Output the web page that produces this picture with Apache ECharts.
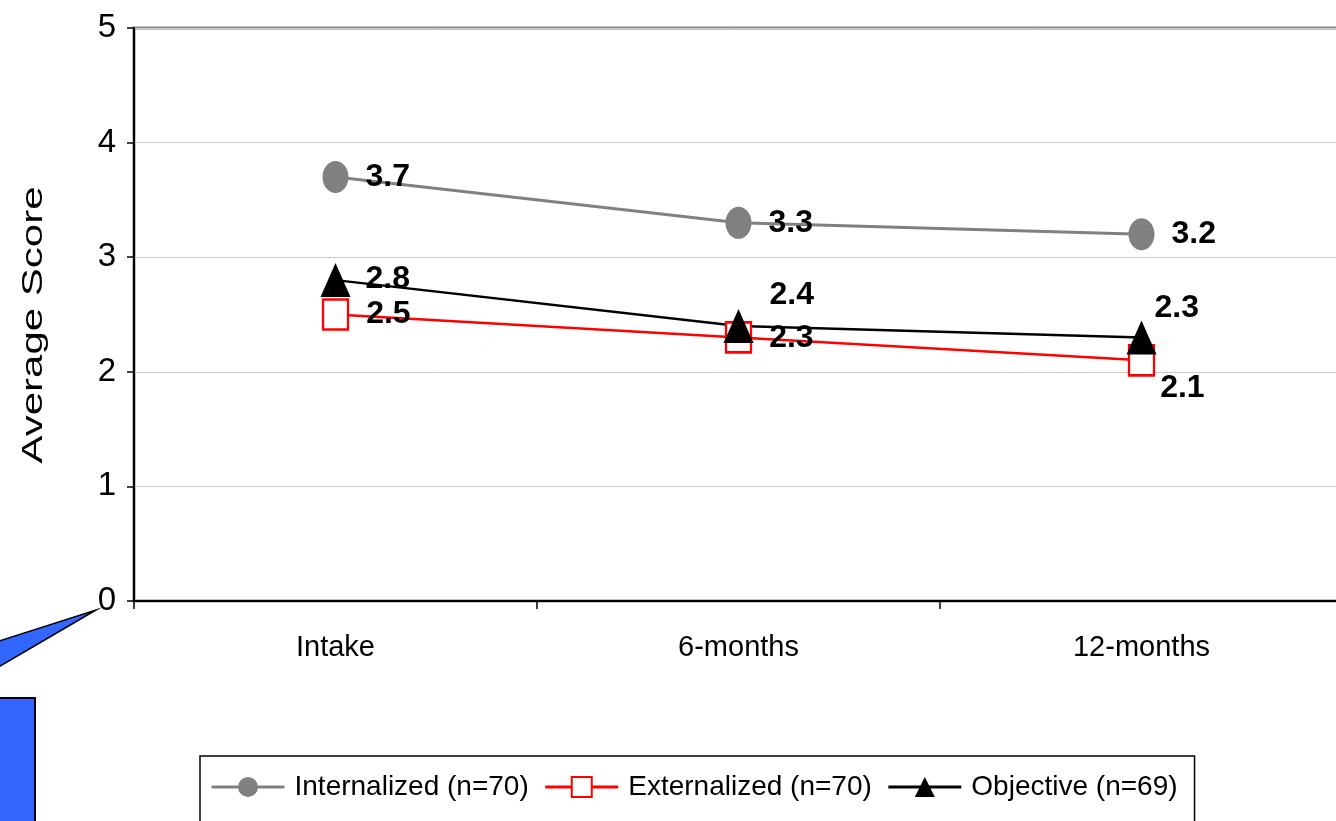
<!DOCTYPE html>
<html>
<head>
<meta charset="utf-8">
<script src="https://cdn.jsdelivr.net/npm/echarts@6/dist/echarts.min.js"></script>
<style>
html,body{margin:0;padding:0;background:#fff;}
#chart{width:1336px;height:821px;}
</style>
</head>
<body>
<div id="chart"></div>
<script>
const categories = ['Intake', '6-months', '12-months'];
const internalized = [3.7, 3.3, 3.2];
const externalized = [2.5, 2.3, 2.1];
const objective = [2.8, 2.4, 2.3];
const seriesNames = ['Internalized (n=70)', 'Externalized (n=70)', 'Objective (n=69)'];
const yTicks = [0, 1, 2, 3, 4, 5];

// label nudges (style only)
const intOffsets = [[0, 0], [0, 0], [0, 0]];
const extOffsets = [[0, 0], [0, 1], [-12, 28]];
const objOffsets = [[-2, -1], [-1, -31], [-19, -29]];

const FONT = 'Liberation Sans, Arial, sans-serif';

function withLabels(values, offsets) {
  return values.map((v, i) => ({ value: v, label: { offset: offsets[i] } }));
}

const labelBase = {
  show: true,
  position: 'right',
  distance: 17,
  color: '#000',
  fontFamily: FONT,
  fontWeight: 'bold',
  fontSize: 32,
  formatter: p => p.value.toFixed(1)
};

const chart = echarts.init(document.getElementById('chart'), null, { renderer: 'canvas' });
chart.setOption({
  animation: false,
  backgroundColor: '#fff',
  textStyle: { fontFamily: FONT },
  grid: {
    left: 134, top: 28, width: 1209, height: 573,
    outerBoundsMode: 'none',
    show: true, borderColor: '#888', borderWidth: 3, backgroundColor: 'transparent'
  },
  legend: {
    left: 200, top: 756,
    padding: [17, 17, 22, 10],
    itemGap: 15,
    itemWidth: 73, itemHeight: 25,
    borderColor: '#000', borderWidth: 1.5,
    lineStyle: { width: 3 },
    textStyle: { fontFamily: FONT, fontSize: 28, color: '#000', padding: [0, 0, 0, 5] },
    data: seriesNames
  },
  xAxis: {
    type: 'category',
    data: categories,
    boundaryGap: true,
    axisLine: { lineStyle: { color: '#000', width: 2 } },
    axisTick: { show: true, length: 8, lineStyle: { color: '#000', width: 1.5 } },
    axisLabel: { fontFamily: FONT, fontSize: 29, color: '#000', margin: 32 },
    splitLine: { show: false }
  },
  yAxis: {
    type: 'value',
    min: yTicks[0], max: yTicks[yTicks.length - 1], interval: 1,
    axisLine: { show: true, lineStyle: { color: '#000', width: 2 } },
    axisTick: { show: true, length: 7, lineStyle: { color: '#000', width: 1.5 } },
    axisLabel: { fontFamily: FONT, fontSize: 33, color: '#000', margin: 18 },
    splitLine: { show: true, lineStyle: { color: '#c8c8c8', width: 1 } }
  },
  graphic: [
    {
      type: 'text',
      x: 34, y: 325,
      rotation: Math.PI / 2,
      scaleX: 1.4,
      style: {
        text: 'Average Score',
        font: '30px ' + FONT,
        fill: '#000',
        align: 'center',
        verticalAlign: 'middle'
      }
    },
    {
      type: 'polygon',
      shape: { points: [[-10, 644], [96, 610], [-10, 672]] },
      style: { fill: '#3366ff', stroke: '#000', lineWidth: 1.5 }
    },
    {
      type: 'rect',
      shape: { x: -5, y: 698, width: 40, height: 140 },
      style: { fill: '#3366ff', stroke: '#000', lineWidth: 2 }
    }
  ],
  series: [
    {
      name: seriesNames[0],
      type: 'line',
      data: withLabels(internalized, intOffsets),
      symbol: 'circle',
      symbolSize: [26, 32],
      lineStyle: { color: '#808080', width: 3 },
      itemStyle: { color: '#808080' },
      label: labelBase
    },
    {
      name: seriesNames[1],
      type: 'line',
      data: withLabels(externalized, extOffsets),
      symbol: 'rect',
      symbolSize: [25, 30],
      lineStyle: { color: '#ff0000', width: 2.5 },
      itemStyle: { color: '#ffffff', borderColor: '#ff0000', borderWidth: 2.5 },
      label: labelBase
    },
    {
      name: seriesNames[2],
      type: 'line',
      data: withLabels(objective, objOffsets),
      symbol: 'triangle',
      symbolSize: [30, 34],
      lineStyle: { color: '#000000', width: 2.5 },
      itemStyle: { color: '#000000' },
      label: labelBase
    }
  ]
});
</script>
</body>
</html>
